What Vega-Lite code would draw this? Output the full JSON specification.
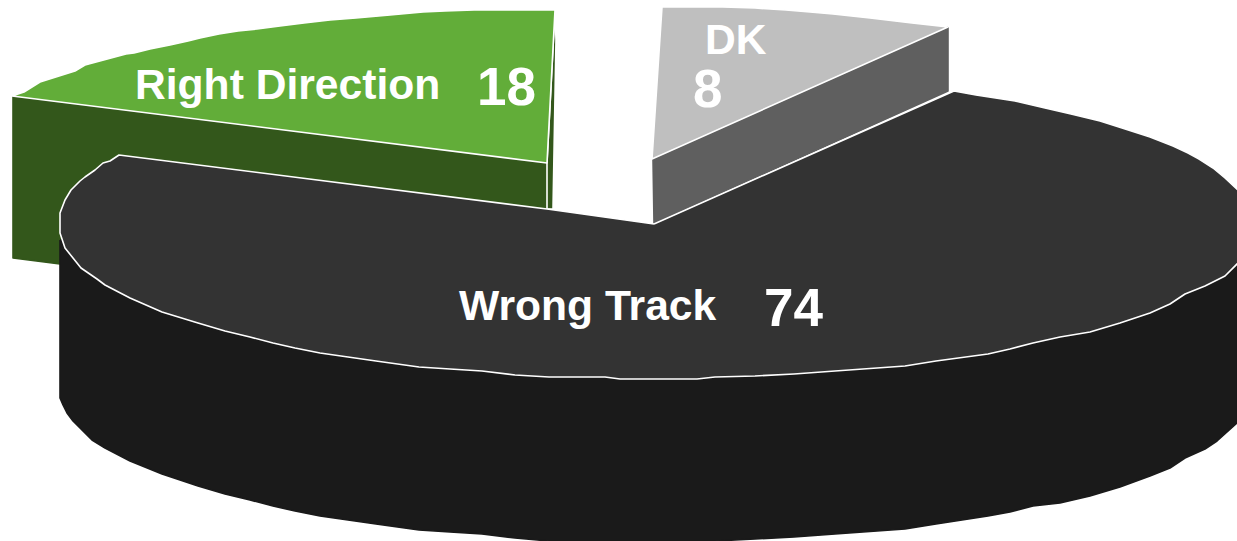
{"$schema":"https://vega.github.io/schema/vega-lite/v6.json","width":1237,"height":541,"padding":0,"autosize":{"type":"fit","contains":"padding"},"background":"#ffffff","config":{"view":{"stroke":null}},
"datasets":{"outline":[
{"s":"green side","i":1,"x":13,"y":96},{"s":"green side","i":2,"x":547,"y":163},{"s":"green side","i":3,"x":547,"y":209},{"s":"green side","i":4,"x":60,"y":264},{"s":"green side","i":5,"x":13,"y":258},{"s":"green side","i":6,"x":13,"y":96},
{"s":"green end","i":1,"x":555,"y":10},{"s":"green end","i":2,"x":547,"y":163},{"s":"green end","i":3,"x":547,"y":209},{"s":"green end","i":4,"x":553,"y":209},{"s":"green end","i":5,"x":556,"y":40},{"s":"green end","i":6,"x":555,"y":10},
{"s":"green top","i":1,"x":12,"y":96},{"s":"green top","i":2,"x":24,"y":92},{"s":"green top","i":3,"x":40,"y":82},{"s":"green top","i":4,"x":75,"y":71},{"s":"green top","i":5,"x":85,"y":65},{"s":"green top","i":6,"x":126,"y":54},{"s":"green top","i":7,"x":134,"y":53},{"s":"green top","i":8,"x":150,"y":49},{"s":"green top","i":9,"x":170,"y":45},{"s":"green top","i":10,"x":188,"y":41},{"s":"green top","i":11,"x":200,"y":38},{"s":"green top","i":12,"x":219,"y":34},{"s":"green top","i":13,"x":238,"y":31},{"s":"green top","i":14,"x":257,"y":29},{"s":"green top","i":15,"x":280,"y":26},{"s":"green top","i":16,"x":304,"y":23},{"s":"green top","i":17,"x":330,"y":20},{"s":"green top","i":18,"x":356,"y":18},{"s":"green top","i":19,"x":390,"y":15},{"s":"green top","i":20,"x":423,"y":12},{"s":"green top","i":21,"x":445,"y":11},{"s":"green top","i":22,"x":474,"y":10},{"s":"green top","i":23,"x":555,"y":10},{"s":"green top","i":24,"x":547,"y":163},{"s":"green top","i":25,"x":12,"y":96},
{"s":"gray side","i":1,"x":948,"y":27},{"s":"gray side","i":2,"x":948,"y":91},{"s":"gray side","i":3,"x":654,"y":223},{"s":"gray side","i":4,"x":653,"y":159},{"s":"gray side","i":5,"x":948,"y":27},
{"s":"gray top","i":1,"x":662,"y":7},{"s":"gray top","i":2,"x":723,"y":7},{"s":"gray top","i":3,"x":755,"y":8},{"s":"gray top","i":4,"x":786,"y":10},{"s":"gray top","i":5,"x":810,"y":12},{"s":"gray top","i":6,"x":833,"y":14},{"s":"gray top","i":7,"x":870,"y":18},{"s":"gray top","i":8,"x":912,"y":23},{"s":"gray top","i":9,"x":948,"y":27},{"s":"gray top","i":10,"x":652,"y":159},{"s":"gray top","i":11,"x":662,"y":7},
{"s":"dark side","i":1,"x":60,"y":240},{"s":"dark side","i":2,"x":1237,"y":240},{"s":"dark side","i":3,"x":1237,"y":423},{"s":"dark side","i":4,"x":1217,"y":441},{"s":"dark side","i":5,"x":1205,"y":449},{"s":"dark side","i":6,"x":1185,"y":458},{"s":"dark side","i":7,"x":1170,"y":468},{"s":"dark side","i":8,"x":1150,"y":476},{"s":"dark side","i":9,"x":1120,"y":487},{"s":"dark side","i":10,"x":1090,"y":496},{"s":"dark side","i":11,"x":1060,"y":503},{"s":"dark side","i":12,"x":1033,"y":506},{"s":"dark side","i":13,"x":1010,"y":512},{"s":"dark side","i":14,"x":988,"y":516},{"s":"dark side","i":15,"x":936,"y":524},{"s":"dark side","i":16,"x":905,"y":529},{"s":"dark side","i":17,"x":877,"y":531},{"s":"dark side","i":18,"x":835,"y":534},{"s":"dark side","i":19,"x":794,"y":537},{"s":"dark side","i":20,"x":755,"y":539},{"s":"dark side","i":21,"x":715,"y":541},{"s":"dark side","i":22,"x":549,"y":541},{"s":"dark side","i":23,"x":515,"y":538},{"s":"dark side","i":24,"x":482,"y":534},{"s":"dark side","i":25,"x":450,"y":532},{"s":"dark side","i":26,"x":419,"y":530},{"s":"dark side","i":27,"x":376,"y":524},{"s":"dark side","i":28,"x":348,"y":520},{"s":"dark side","i":29,"x":320,"y":516},{"s":"dark side","i":30,"x":295,"y":511},{"s":"dark side","i":31,"x":273,"y":506},{"s":"dark side","i":32,"x":250,"y":500},{"s":"dark side","i":33,"x":225,"y":494},{"s":"dark side","i":34,"x":198,"y":486},{"s":"dark side","i":35,"x":162,"y":474},{"s":"dark side","i":36,"x":130,"y":461},{"s":"dark side","i":37,"x":105,"y":448},{"s":"dark side","i":38,"x":92,"y":440},{"s":"dark side","i":39,"x":81,"y":429},{"s":"dark side","i":40,"x":73,"y":421},{"s":"dark side","i":41,"x":67,"y":413},{"s":"dark side","i":42,"x":63,"y":405},{"s":"dark side","i":43,"x":60,"y":398},{"s":"dark side","i":44,"x":60,"y":240},
{"s":"dark top","i":1,"x":654,"y":224},{"s":"dark top","i":2,"x":954,"y":91},{"s":"dark top","i":3,"x":976,"y":95},{"s":"dark top","i":4,"x":1015,"y":101},{"s":"dark top","i":5,"x":1045,"y":108},{"s":"dark top","i":6,"x":1071,"y":114},{"s":"dark top","i":7,"x":1100,"y":121},{"s":"dark top","i":8,"x":1122,"y":128},{"s":"dark top","i":9,"x":1150,"y":137},{"s":"dark top","i":10,"x":1173,"y":146},{"s":"dark top","i":11,"x":1188,"y":153},{"s":"dark top","i":12,"x":1199,"y":159},{"s":"dark top","i":13,"x":1213,"y":168},{"s":"dark top","i":14,"x":1225,"y":178},{"s":"dark top","i":15,"x":1240,"y":192},{"s":"dark top","i":16,"x":1240,"y":261},{"s":"dark top","i":17,"x":1225,"y":276},{"s":"dark top","i":18,"x":1205,"y":286},{"s":"dark top","i":19,"x":1185,"y":294},{"s":"dark top","i":20,"x":1170,"y":304},{"s":"dark top","i":21,"x":1150,"y":313},{"s":"dark top","i":22,"x":1120,"y":323},{"s":"dark top","i":23,"x":1090,"y":332},{"s":"dark top","i":24,"x":1060,"y":337},{"s":"dark top","i":25,"x":1033,"y":343},{"s":"dark top","i":26,"x":1010,"y":349},{"s":"dark top","i":27,"x":988,"y":354},{"s":"dark top","i":28,"x":936,"y":361},{"s":"dark top","i":29,"x":905,"y":366},{"s":"dark top","i":30,"x":877,"y":368},{"s":"dark top","i":31,"x":835,"y":371},{"s":"dark top","i":32,"x":794,"y":374},{"s":"dark top","i":33,"x":755,"y":376},{"s":"dark top","i":34,"x":715,"y":377},{"s":"dark top","i":35,"x":697,"y":379},{"s":"dark top","i":36,"x":620,"y":379},{"s":"dark top","i":37,"x":605,"y":377},{"s":"dark top","i":38,"x":549,"y":377},{"s":"dark top","i":39,"x":515,"y":375},{"s":"dark top","i":40,"x":482,"y":371},{"s":"dark top","i":41,"x":450,"y":369},{"s":"dark top","i":42,"x":419,"y":367},{"s":"dark top","i":43,"x":376,"y":361},{"s":"dark top","i":44,"x":348,"y":357},{"s":"dark top","i":45,"x":320,"y":353},{"s":"dark top","i":46,"x":295,"y":348},{"s":"dark top","i":47,"x":273,"y":343},{"s":"dark top","i":48,"x":250,"y":337},{"s":"dark top","i":49,"x":225,"y":331},{"s":"dark top","i":50,"x":198,"y":323},{"s":"dark top","i":51,"x":162,"y":312},{"s":"dark top","i":52,"x":130,"y":298},{"s":"dark top","i":53,"x":105,"y":285},{"s":"dark top","i":54,"x":97,"y":279},{"s":"dark top","i":55,"x":81,"y":268},{"s":"dark top","i":56,"x":73,"y":258},{"s":"dark top","i":57,"x":65,"y":248},{"s":"dark top","i":58,"x":60,"y":233},{"s":"dark top","i":59,"x":60,"y":213},{"s":"dark top","i":60,"x":65,"y":200},{"s":"dark top","i":61,"x":71,"y":190},{"s":"dark top","i":62,"x":80,"y":181},{"s":"dark top","i":63,"x":85,"y":177},{"s":"dark top","i":64,"x":95,"y":170},{"s":"dark top","i":65,"x":103,"y":163},{"s":"dark top","i":66,"x":110,"y":161},{"s":"dark top","i":67,"x":119,"y":155},{"s":"dark top","i":68,"x":547,"y":209},{"s":"dark top","i":69,"x":654,"y":224}
],
"names":[{"t":"Right Direction","x":135,"y":99},{"t":"DK","x":705,"y":54},{"t":"Wrong Track","x":459,"y":320}],
"values":[{"t":"18","x":477,"y":105},{"t":"8","x":693,"y":107},{"t":"74","x":764,"y":326}]},
"layer":[
{"data":{"name":"outline"},"mark":{"type":"line","clip":true,"strokeWidth":1.6,"strokeJoin":"round"},"encoding":{
"x":{"field":"x","type":"quantitative","scale":{"domain":[0,1237],"nice":false,"zero":false},"axis":null},
"y":{"field":"y","type":"quantitative","scale":{"domain":[541,0],"nice":false,"zero":false},"axis":null},
"order":{"field":"i","type":"quantitative"},
"fill":{"field":"s","type":"nominal","legend":null,"sort":null,"scale":{"domain":["green side","green end","green top","gray side","gray top","dark side","dark top"],"range":["#33571b","#33571b","#62ad39","#5f5f5f","#bfbfbf","#1a1a1a","#333333"]}},
"stroke":{"field":"s","type":"nominal","legend":null,"sort":null,"scale":{"domain":["green side","green end","green top","gray side","gray top","dark side","dark top"],"range":["#33571b","#ffffff","#ffffff","#5f5f5f","#ffffff","#1a1a1a","#ffffff"]}}}},
{"data":{"name":"names"},"mark":{"type":"text","align":"left","baseline":"alphabetic","font":"Liberation Sans","fontWeight":"bold","fontSize":42.6,"color":"#ffffff"},"encoding":{"x":{"field":"x","type":"quantitative"},"y":{"field":"y","type":"quantitative"},"text":{"field":"t"}}},
{"data":{"name":"values"},"mark":{"type":"text","align":"left","baseline":"alphabetic","font":"Liberation Sans","fontWeight":"bold","fontSize":53,"color":"#ffffff"},"encoding":{"x":{"field":"x","type":"quantitative"},"y":{"field":"y","type":"quantitative"},"text":{"field":"t"}}}
]}
